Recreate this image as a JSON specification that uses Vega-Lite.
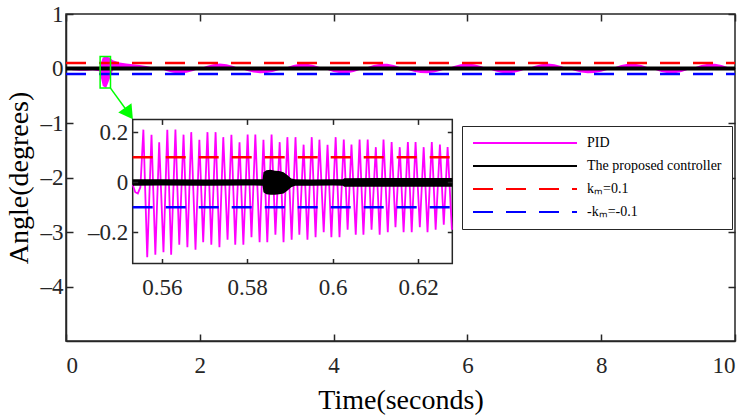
{
  "$schema": "https://vega.github.io/schema/vega-lite/v6.json",
  "width": 669,
  "height": 327,
  "autosize": "none",
  "padding": {"left": 66, "top": 14, "right": 19, "bottom": 76},
  "config": {
    "font": "Liberation Serif",
    "view": {"stroke": "#262626", "strokeWidth": 1.5},
    "axis": {
      "grid": false,
      "domainColor": "#262626",
      "domainWidth": 1.5,
      "tickColor": "#262626",
      "tickWidth": 1.5,
      "tickSize": -7,
      "labelPadding": 10,
      "labelFont": "Liberation Serif",
      "labelFontSize": 23,
      "labelColor": "#262626",
      "titleFont": "Liberation Serif",
      "titleFontSize": 28,
      "titleFontWeight": "normal",
      "titleColor": "#000000"
    },
    "legend": {
      "labelFont": "Liberation Serif",
      "labelFontSize": 14,
      "labelColor": "#000000",
      "padding": 10,
      "rowPadding": 9,
      "strokeColor": "#262626",
      "fillColor": "#ffffff",
      "symbolStrokeWidth": 2
    }
  },
  "datasets": {
    "pidMain": [
      {"t": 0, "v": 0, "v2": 0}, {"t": 0.1, "v": 0, "v2": -0.03}, {"t": 0.2, "v": 0, "v2": -0.04},
      {"t": 0.3, "v": 0, "v2": -0.04}, {"t": 0.4, "v": 0, "v2": -0.03}, {"t": 0.5, "v": 0.02, "v2": -0.05},
      {"t": 0.55, "v": 0.2, "v2": -0.32}, {"t": 0.6, "v": 0.22, "v2": -0.36}, {"t": 0.65, "v": 0.2, "v2": -0.2},
      {"t": 0.7, "v": 0.15, "v2": -0.03}, {"t": 0.8, "v": 0.11, "v2": 0}, {"t": 0.9, "v": 0.09, "v2": 0},
      {"t": 1.0, "v": 0.08, "v2": 0}, {"t": 1.1, "v": 0.065, "v2": 0}, {"t": 1.2, "v": 0.045, "v2": 0},
      {"t": 1.3, "v": 0.02, "v2": 0}, {"t": 1.4, "v": 0, "v2": 0},
      {"t": 1.5, "v": 0, "v2": -0.045}, {"t": 1.6, "v": 0, "v2": -0.078}, {"t": 1.7, "v": 0, "v2": -0.09},
      {"t": 1.8, "v": 0, "v2": -0.078}, {"t": 1.9, "v": 0, "v2": -0.045}, {"t": 2.0, "v": 0, "v2": 0},
      {"t": 2.1, "v": 0.045, "v2": 0}, {"t": 2.2, "v": 0.078, "v2": 0}, {"t": 2.3, "v": 0.09, "v2": 0},
      {"t": 2.4, "v": 0.078, "v2": 0}, {"t": 2.5, "v": 0.045, "v2": 0}, {"t": 2.6, "v": 0, "v2": 0},
      {"t": 2.7, "v": 0, "v2": -0.042}, {"t": 2.8, "v": 0, "v2": -0.074}, {"t": 2.9, "v": 0, "v2": -0.089},
      {"t": 3.0, "v": 0, "v2": -0.084}, {"t": 3.1, "v": 0, "v2": -0.06}, {"t": 3.2, "v": 0, "v2": -0.022},
      {"t": 3.25, "v": 0, "v2": 0},
      {"t": 3.3, "v": 0.023, "v2": 0}, {"t": 3.4, "v": 0.064, "v2": 0}, {"t": 3.5, "v": 0.087, "v2": 0},
      {"t": 3.6, "v": 0.087, "v2": 0}, {"t": 3.7, "v": 0.064, "v2": 0}, {"t": 3.8, "v": 0.023, "v2": 0},
      {"t": 3.85, "v": 0, "v2": 0},
      {"t": 3.9, "v": 0, "v2": -0.023}, {"t": 4.0, "v": 0, "v2": -0.064}, {"t": 4.1, "v": 0, "v2": -0.087},
      {"t": 4.2, "v": 0, "v2": -0.087}, {"t": 4.3, "v": 0, "v2": -0.064}, {"t": 4.4, "v": 0, "v2": -0.023},
      {"t": 4.45, "v": 0, "v2": 0},
      {"t": 4.5, "v": 0.023, "v2": 0}, {"t": 4.6, "v": 0.064, "v2": 0}, {"t": 4.7, "v": 0.087, "v2": 0},
      {"t": 4.8, "v": 0.087, "v2": 0}, {"t": 4.9, "v": 0.064, "v2": 0}, {"t": 5.0, "v": 0.023, "v2": 0},
      {"t": 5.05, "v": 0, "v2": 0},
      {"t": 5.1, "v": 0, "v2": -0.022}, {"t": 5.2, "v": 0, "v2": -0.06}, {"t": 5.3, "v": 0, "v2": -0.084},
      {"t": 5.4, "v": 0, "v2": -0.089}, {"t": 5.5, "v": 0, "v2": -0.074}, {"t": 5.6, "v": 0, "v2": -0.042},
      {"t": 5.7, "v": 0, "v2": 0},
      {"t": 5.8, "v": 0.045, "v2": 0}, {"t": 5.9, "v": 0.078, "v2": 0}, {"t": 6.0, "v": 0.09, "v2": 0},
      {"t": 6.1, "v": 0.078, "v2": 0}, {"t": 6.2, "v": 0.045, "v2": 0}, {"t": 6.3, "v": 0, "v2": 0},
      {"t": 6.4, "v": 0, "v2": -0.045}, {"t": 6.5, "v": 0, "v2": -0.078}, {"t": 6.6, "v": 0, "v2": -0.09},
      {"t": 6.7, "v": 0, "v2": -0.078}, {"t": 6.8, "v": 0, "v2": -0.045}, {"t": 6.9, "v": 0, "v2": 0},
      {"t": 7.0, "v": 0.045, "v2": 0}, {"t": 7.1, "v": 0.078, "v2": 0}, {"t": 7.2, "v": 0.09, "v2": 0},
      {"t": 7.3, "v": 0.078, "v2": 0}, {"t": 7.4, "v": 0.045, "v2": 0}, {"t": 7.5, "v": 0, "v2": 0},
      {"t": 7.6, "v": 0, "v2": -0.042}, {"t": 7.7, "v": 0, "v2": -0.074}, {"t": 7.8, "v": 0, "v2": -0.089},
      {"t": 7.9, "v": 0, "v2": -0.084}, {"t": 8.0, "v": 0, "v2": -0.06}, {"t": 8.1, "v": 0, "v2": -0.022},
      {"t": 8.15, "v": 0, "v2": 0},
      {"t": 8.2, "v": 0.023, "v2": 0}, {"t": 8.3, "v": 0.064, "v2": 0}, {"t": 8.4, "v": 0.087, "v2": 0},
      {"t": 8.5, "v": 0.087, "v2": 0}, {"t": 8.6, "v": 0.064, "v2": 0}, {"t": 8.7, "v": 0.023, "v2": 0},
      {"t": 8.75, "v": 0, "v2": 0},
      {"t": 8.8, "v": 0, "v2": -0.023}, {"t": 8.9, "v": 0, "v2": -0.064}, {"t": 9.0, "v": 0, "v2": -0.087},
      {"t": 9.1, "v": 0, "v2": -0.087}, {"t": 9.2, "v": 0, "v2": -0.064}, {"t": 9.3, "v": 0, "v2": -0.023},
      {"t": 9.35, "v": 0, "v2": 0},
      {"t": 9.4, "v": 0.023, "v2": 0}, {"t": 9.5, "v": 0.064, "v2": 0}, {"t": 9.6, "v": 0.087, "v2": 0},
      {"t": 9.7, "v": 0.087, "v2": 0}, {"t": 9.8, "v": 0.064, "v2": 0}, {"t": 9.9, "v": 0.023, "v2": 0},
      {"t": 10, "v": 0.01, "v2": 0}
    ],
    "pidZoom": [
      {"t": 0.5532, "v": -0.01}, {"t": 0.5538, "v": -0.04}, {"t": 0.5544, "v": -0.045}, {"t": 0.555, "v": -0.02},
      {"t": 0.5557, "v": 0.21}, {"t": 0.5566, "v": -0.3}, {"t": 0.5576, "v": 0.19}, {"t": 0.5585, "v": -0.29},
      {"t": 0.5594, "v": 0.16}, {"t": 0.5604, "v": -0.28}, {"t": 0.5613, "v": 0.21}, {"t": 0.5622, "v": -0.29},
      {"t": 0.5632, "v": 0.21}, {"t": 0.5641, "v": -0.25}, {"t": 0.5651, "v": 0.19}, {"t": 0.566, "v": -0.26},
      {"t": 0.5669, "v": 0.2}, {"t": 0.5679, "v": -0.27}, {"t": 0.5688, "v": 0.17}, {"t": 0.5697, "v": -0.24},
      {"t": 0.5707, "v": 0.2}, {"t": 0.5716, "v": -0.25}, {"t": 0.5726, "v": 0.2}, {"t": 0.5735, "v": -0.26},
      {"t": 0.5744, "v": 0.18}, {"t": 0.5754, "v": -0.23}, {"t": 0.5763, "v": 0.19}, {"t": 0.5772, "v": -0.25},
      {"t": 0.5782, "v": 0.16}, {"t": 0.5791, "v": -0.25}, {"t": 0.5801, "v": 0.19}, {"t": 0.581, "v": -0.22},
      {"t": 0.5819, "v": 0.19}, {"t": 0.5829, "v": -0.24}, {"t": 0.5838, "v": 0.17}, {"t": 0.5847, "v": -0.24},
      {"t": 0.5857, "v": 0.19}, {"t": 0.5866, "v": -0.21}, {"t": 0.5876, "v": 0.16}, {"t": 0.5885, "v": -0.24},
      {"t": 0.5894, "v": 0.18}, {"t": 0.5904, "v": -0.23}, {"t": 0.5913, "v": 0.18}, {"t": 0.5922, "v": -0.21},
      {"t": 0.5932, "v": 0.15}, {"t": 0.5941, "v": -0.23}, {"t": 0.5951, "v": 0.18}, {"t": 0.596, "v": -0.22},
      {"t": 0.5969, "v": 0.17}, {"t": 0.5979, "v": -0.2}, {"t": 0.5988, "v": 0.15}, {"t": 0.5997, "v": -0.22},
      {"t": 0.6007, "v": 0.18}, {"t": 0.6016, "v": -0.22}, {"t": 0.6026, "v": 0.17}, {"t": 0.6035, "v": -0.19},
      {"t": 0.6044, "v": 0.15}, {"t": 0.6054, "v": -0.21}, {"t": 0.6063, "v": 0.17}, {"t": 0.6072, "v": -0.21},
      {"t": 0.6082, "v": 0.17}, {"t": 0.6091, "v": -0.19}, {"t": 0.6101, "v": 0.14}, {"t": 0.611, "v": -0.21},
      {"t": 0.6119, "v": 0.17}, {"t": 0.6129, "v": -0.2}, {"t": 0.6138, "v": 0.16}, {"t": 0.6147, "v": -0.18},
      {"t": 0.6157, "v": 0.14}, {"t": 0.6166, "v": -0.2}, {"t": 0.6176, "v": 0.16}, {"t": 0.6185, "v": -0.2},
      {"t": 0.6194, "v": 0.16}, {"t": 0.6204, "v": -0.18}, {"t": 0.6213, "v": 0.14}, {"t": 0.6222, "v": -0.2},
      {"t": 0.6232, "v": 0.16}, {"t": 0.6241, "v": -0.19}, {"t": 0.6251, "v": 0.15}, {"t": 0.626, "v": -0.17},
      {"t": 0.6269, "v": 0.14}, {"t": 0.6279, "v": -0.19}
    ],
    "proposedZoom": [
      {"t": 0.5532, "v": 0.012, "v2": -0.014}, {"t": 0.56, "v": 0.012, "v2": -0.013},
      {"t": 0.57, "v": 0.011, "v2": -0.014}, {"t": 0.58, "v": 0.012, "v2": -0.013},
      {"t": 0.5836, "v": 0.012, "v2": -0.014}, {"t": 0.5838, "v": 0.04, "v2": -0.04},
      {"t": 0.5845, "v": 0.048, "v2": -0.048}, {"t": 0.5855, "v": 0.05, "v2": -0.05},
      {"t": 0.5865, "v": 0.046, "v2": -0.05}, {"t": 0.5875, "v": 0.045, "v2": -0.048},
      {"t": 0.5885, "v": 0.04, "v2": -0.045}, {"t": 0.5893, "v": 0.03, "v2": -0.035},
      {"t": 0.5903, "v": 0.015, "v2": -0.02}, {"t": 0.5912, "v": 0.012, "v2": -0.014},
      {"t": 0.595, "v": 0.011, "v2": -0.014}, {"t": 0.6, "v": 0.012, "v2": -0.013},
      {"t": 0.6024, "v": 0.012, "v2": -0.014}, {"t": 0.6027, "v": 0.016, "v2": -0.018},
      {"t": 0.61, "v": 0.017, "v2": -0.018}, {"t": 0.62, "v": 0.017, "v2": -0.018},
      {"t": 0.628, "v": 0.017, "v2": -0.018}
    ]
  },
  "layer": [
    {
      "encoding": {
        "x": {
          "field": "t", "type": "quantitative",
          "scale": {"domain": [0, 10], "nice": false, "zero": false},
          "axis": {"title": "Time(seconds)", "values": [0, 2, 4, 6, 8, 10], "format": "d", "labelPadding": 20, "titlePadding": 9}
        },
        "y": {
          "field": "v", "type": "quantitative",
          "scale": {"domain": [-5, 1], "nice": false, "zero": false},
          "axis": {"title": "Angle(degrees)", "values": [-4, -3, -2, -1, 0, 1], "format": "d",
            "labelExpr": "replace(replace(datum.label, '\u2212', '\u2013'), '-', '\u2013')", "titlePadding": 7}
        }
      },
      "layer": [
        {
          "data": {"name": "pidMain"},
          "mark": {"type": "area", "color": "#ff00ff", "opacity": 1},
          "encoding": {"y2": {"field": "v2"}}
        },
        {
          "data": {"values": [
            {"t": 0, "v": 0, "s": "The proposed controller"},
            {"t": 10, "v": 0, "s": "The proposed controller"}
          ]},
          "mark": {"type": "line", "strokeWidth": 4},
          "encoding": {
            "color": {"field": "s", "type": "nominal",
              "scale": {"domain": ["PID", "The proposed controller", "kₘ=0.1", "-kₘ=-0.1"], "range": ["#ff00ff", "#000000", "#ff0000", "#0000ff"]},
              "legend": {"title": null, "orient": "none", "legendX": 396, "legendY": 112,
                "symbolType": "M-10.4,0H10.4", "symbolSize": 100, "symbolOffset": 46, "labelOffset": 55}},
            "strokeDash": {"field": "s", "type": "nominal",
              "scale": {"domain": ["PID", "The proposed controller", "kₘ=0.1", "-kₘ=-0.1"], "range": [[1, 0], [1, 0], [20, 13], [20, 13]]},
              "legend": {"title": null, "orient": "none", "legendX": 396, "legendY": 112,
                "symbolType": "M-10.4,0H10.4", "symbolSize": 100, "symbolOffset": 46, "labelOffset": 55}}
          }
        },
        {
          "data": {"values": [
            {"t": 0, "v": 0.1, "s": "kₘ=0.1"}, {"t": 10, "v": 0.1, "s": "kₘ=0.1"},
            {"t": 0, "v": -0.1, "s": "-kₘ=-0.1"}, {"t": 10, "v": -0.1, "s": "-kₘ=-0.1"}
          ]},
          "mark": {"type": "line", "strokeWidth": 2.5},
          "encoding": {
            "color": {"field": "s", "type": "nominal"},
            "strokeDash": {"field": "s", "type": "nominal"}
          }
        },
        {
          "data": {"values": [{"t": 0.51, "t2": 0.665, "v": -0.36, "v2": 0.22}]},
          "mark": {"type": "rect", "fill": null, "fillOpacity": 0, "stroke": "#00ff00", "strokeWidth": 1.5},
          "encoding": {"x2": {"field": "t2"}, "y2": {"field": "v2"}}
        },
        {
          "data": {"values": [{"t": 0.665, "v": -0.36}, {"t": 0.94, "v": -0.826}]},
          "mark": {"type": "line", "color": "#00ff00", "strokeWidth": 1.5},
          "encoding": {}
        },
        {
          "data": {"values": [{"t": 0.94, "v": -0.826}]},
          "mark": {"type": "point", "shape": "triangle-up", "angle": 145, "size": 260, "filled": true, "color": "#00ff00", "opacity": 1},
          "encoding": {}
        }
      ]
    },
    {
      "encoding": {
        "x": {
          "field": "t", "type": "quantitative",
          "scale": {"domain": [0.53759, 0.69416], "nice": false, "zero": false},
          "axis": {"orient": "bottom", "offset": -77.5, "title": null, "domain": false, "tickSize": -5, "labelPadding": 18, "format": ".2~f", "values": [0.56, 0.58, 0.6, 0.62], "zindex": 2}
        },
        "y": {
          "field": "v", "type": "quantitative",
          "scale": {"domain": [-0.6348, 0.6723], "nice": false, "zero": false},
          "axis": {"orient": "left", "offset": -66.7, "title": null, "domain": false, "tickSize": -5, "format": ".2~f", "values": [-0.2, 0, 0.2],
            "labelExpr": "replace(replace(datum.label, '\u2212', '\u2013'), '-', '\u2013')", "zindex": 2}
        }
      },
      "layer": [
        {
          "data": {"values": [{"t": 0.5532, "t2": 0.628, "v": -0.325, "v2": 0.251}]},
          "mark": {"type": "rect", "fill": "#ffffff", "stroke": "#262626", "strokeWidth": 1.5},
          "encoding": {"x2": {"field": "t2"}, "y2": {"field": "v2"}}
        },
        {
          "data": {"name": "pidZoom"},
          "mark": {"type": "line", "color": "#ff00ff", "strokeWidth": 1.8},
          "encoding": {}
        },
        {
          "data": {"name": "proposedZoom"},
          "mark": {"type": "area", "color": "#000000", "opacity": 1},
          "encoding": {"y2": {"field": "v2"}}
        },
        {
          "data": {"values": [{"t": 0.5532, "v": 0.1}, {"t": 0.628, "v": 0.1}]},
          "mark": {"type": "line", "color": "#ff0000", "strokeWidth": 2.5, "strokeDash": [20, 13]},
          "encoding": {}
        },
        {
          "data": {"values": [{"t": 0.5532, "v": -0.1}, {"t": 0.628, "v": -0.1}]},
          "mark": {"type": "line", "color": "#0000ff", "strokeWidth": 2.5, "strokeDash": [20, 13]},
          "encoding": {}
        }
      ]
    },
    {
      "data": {"values": [{"t": 5, "v": 0}]},
      "mark": {"type": "point", "opacity": 0},
      "encoding": {
        "x": {"field": "t", "type": "quantitative",
          "scale": {"domain": [0, 10], "nice": false, "zero": false},
          "axis": {"orient": "top", "title": null, "labels": false, "domain": false, "values": [0, 2, 4, 6, 8, 10]}},
        "y": {"field": "v", "type": "quantitative",
          "scale": {"domain": [-5, 1], "nice": false, "zero": false},
          "axis": {"orient": "right", "title": null, "labels": false, "domain": false, "values": [-4, -3, -2, -1, 0, 1]}}
      }
    },
    {
      "data": {"values": [{"t": 0.6, "v": 0}]},
      "mark": {"type": "point", "opacity": 0},
      "encoding": {
        "x": {"field": "t", "type": "quantitative",
          "scale": {"domain": [0.53759, 0.69416], "nice": false, "zero": false},
          "axis": {"orient": "top", "offset": -105.4, "title": null, "labels": false, "domain": false, "tickSize": -5, "values": [0.56, 0.58, 0.6, 0.62], "zindex": 2}},
        "y": {"field": "v", "type": "quantitative",
          "scale": {"domain": [-0.6348, 0.6723], "nice": false, "zero": false},
          "axis": {"orient": "right", "offset": -282.7, "title": null, "labels": false, "domain": false, "tickSize": -5, "values": [-0.2, 0, 0.2], "zindex": 2}}
      }
    }
  ],
  "resolve": {
    "scale": {"x": "independent", "y": "independent"},
    "axis": {"x": "independent", "y": "independent"}
  }
}
